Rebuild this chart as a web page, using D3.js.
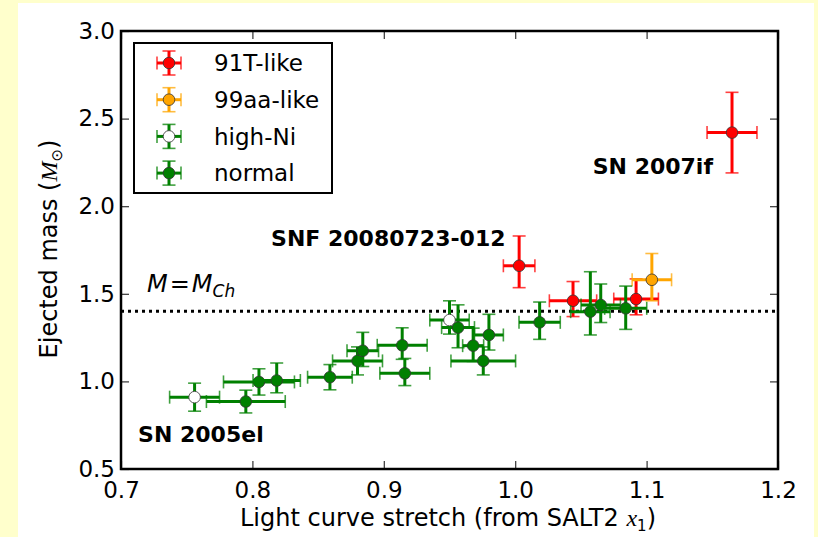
<!DOCTYPE html>
<html>
<head>
<meta charset="utf-8">
<script src="https://cdn.jsdelivr.net/npm/d3@7"></script>
<style>
  html, body { margin: 0; padding: 0; background: #ffffcc; }
  svg { display: block; }
  text { font-family: "DejaVu Sans", sans-serif; fill: #000; }
</style>
</head>
<body>
<svg id="chart" width="818" height="537"></svg>
<script>
// Light-curve stretch (x), its error (dx), ejected mass (y) and lower/upper mass errors
const like91T = [
  { x: 1.165, dx: 0.019, y: 2.42, lo: 0.23, hi: 0.23 },
  { x: 1.003, dx: 0.012, y: 1.66, lo: 0.125, hi: 0.17 },
  { x: 1.044, dx: 0.018, y: 1.46, lo: 0.09, hi: 0.11 },
  { x: 1.092, dx: 0.017, y: 1.47, lo: 0.09, hi: 0.115 }
];
const like99aa = [
  { x: 1.104, dx: 0.015, y: 1.58, lo: 0.12, hi: 0.15 }
];
const highNi = [
  { x: 0.756, dx: 0.019, y: 0.91, lo: 0.08, hi: 0.08 },
  { x: 0.950, dx: 0.015, y: 1.35, lo: 0.08, hi: 0.11 }
];
const normal = [
  { x: 0.795, dx: 0.030, y: 0.885, lo: 0.065, hi: 0.065 },
  { x: 0.805, dx: 0.027, y: 0.997, lo: 0.075, hi: 0.075 },
  { x: 0.8185, dx: 0.018, y: 1.005, lo: 0.07, hi: 0.10 },
  { x: 0.859, dx: 0.017, y: 1.024, lo: 0.072, hi: 0.072 },
  { x: 0.880, dx: 0.019, y: 1.117, lo: 0.08, hi: 0.08 },
  { x: 0.884, dx: 0.012, y: 1.175, lo: 0.09, hi: 0.105 },
  { x: 0.914, dx: 0.019, y: 1.206, lo: 0.08, hi: 0.10 },
  { x: 0.916, dx: 0.019, y: 1.046, lo: 0.07, hi: 0.085 },
  { x: 0.9565, dx: 0.0125, y: 1.307, lo: 0.115, hi: 0.13 },
  { x: 0.968, dx: 0.008, y: 1.204, lo: 0.09, hi: 0.10 },
  { x: 0.980, dx: 0.011, y: 1.265, lo: 0.086, hi: 0.118 },
  { x: 0.9757, dx: 0.0246, y: 1.117, lo: 0.08, hi: 0.08 },
  { x: 1.0186, dx: 0.0157, y: 1.337, lo: 0.097, hi: 0.116 },
  { x: 1.0572, dx: 0.015, y: 1.398, lo: 0.133, hi: 0.228 },
  { x: 1.0651, dx: 0.015, y: 1.436, lo: 0.10, hi: 0.12 },
  { x: 1.0841, dx: 0.016, y: 1.417, lo: 0.12, hi: 0.127 }
];

const seriesNames = ["91T-like", "99aa-like", "high-Ni", "normal"];
const seriesColors = ["#ff0000", "#ffa500", "#008000", "#008000"];
const markerFills = ["#ff0000", "#ffa500", "#ffffff", "#008000"];
const seriesData = [like91T, like99aa, highNi, normal];

const xTicks = [0.7, 0.8, 0.9, 1.0, 1.1, 1.2];
const yTicks = [0.5, 1.0, 1.5, 2.0, 2.5, 3.0];
const chandrasekharMass = 1.4;

const annotations = [
  { text: "SN 2007if", x: 1.059, y: 2.184 },
  { text: "SNF 20080723-012", x: 0.8142, y: 1.775 },
  { text: "SN 2005el", x: 0.7130, y: 0.655 }
];

const svg = d3.select("#chart");

// pale figure background inside the yellow page band
svg.append("rect").attr("x", 18).attr("y", 3).attr("width", 796).attr("height", 534)
  .attr("fill", "#ffffff");

const plot = { left: 121, right: 778, top: 31, bottom: 469 };

const x = d3.scaleLinear().domain([0.7, 1.2]).range([plot.left, plot.right]);
const y = d3.scaleLinear().domain([0.5, 3.0]).range([plot.bottom, plot.top]);

svg.append("rect")
  .attr("x", plot.left).attr("y", plot.top)
  .attr("width", plot.right - plot.left).attr("height", plot.bottom - plot.top)
  .attr("fill", "#ffffff");

// inward ticks on all four sides
const tickLen = 8;
const fmt = d3.format(".1f");
const axisBottom = d3.axisBottom(x).tickValues(xTicks).tickSizeInner(-tickLen).tickSizeOuter(0)
  .tickPadding(tickLen + 6).tickFormat(fmt);
const axisTop = d3.axisTop(x).tickValues(xTicks).tickSizeInner(-tickLen).tickSizeOuter(0)
  .tickFormat("");
const axisLeft = d3.axisLeft(y).tickValues(yTicks).tickSizeInner(-tickLen).tickSizeOuter(0)
  .tickPadding(tickLen + 6).tickFormat(fmt);
const axisRight = d3.axisRight(y).tickValues(yTicks).tickSizeInner(-tickLen).tickSizeOuter(0)
  .tickFormat("");

function styleAxis(g) {
  g.select(".domain").remove();
  g.selectAll(".tick line").attr("stroke", "#333").attr("stroke-width", 1.2);
  g.selectAll(".tick text").attr("font-size", 23).attr("font-family", "DejaVu Sans").attr("fill", "#000");
}

svg.append("g").attr("transform", `translate(0,${plot.bottom})`).call(axisBottom).call(styleAxis)
  .selectAll(".tick text").attr("dy", "0.35em").attr("y", 21);
svg.append("g").attr("transform", `translate(0,${plot.top})`).call(axisTop).call(styleAxis);
svg.append("g").attr("transform", `translate(${plot.left},0)`).call(axisLeft).call(styleAxis)
  .selectAll(".tick text").attr("x", -6);
svg.append("g").attr("transform", `translate(${plot.right},0)`).call(axisRight).call(styleAxis);

// Chandrasekhar-mass reference line
svg.append("line")
  .attr("x1", plot.left).attr("x2", plot.right)
  .attr("y1", y(chandrasekharMass)).attr("y2", y(chandrasekharMass))
  .attr("stroke", "#000").attr("stroke-width", 3).attr("stroke-dasharray", "3,4");

const mLabel = svg.append("text")
  .attr("x", 147).attr("y", y(chandrasekharMass) - 19)
  .attr("font-family", "Liberation Serif, serif").attr("font-size", 24);
mLabel.append("tspan").attr("font-style", "italic").text("M");
mLabel.append("tspan").attr("dx", 2).text("=");
mLabel.append("tspan").attr("dx", 2).attr("font-style", "italic").text("M");
mLabel.append("tspan").attr("font-style", "italic").attr("font-size", 17).attr("dy", 5).text("Ch");

// error bars and markers
const capHalf = 6.5;
function drawPoint(g, d, color, fill) {
  const cx = x(d.x), cy = y(d.y);
  const x0 = x(d.x - d.dx), x1 = x(d.x + d.dx);
  const yTop = y(d.y + d.hi), yBot = y(d.y - d.lo);
  g.append("line").attr("x1", x0).attr("x2", x1).attr("y1", cy).attr("y2", cy)
    .attr("stroke", color).attr("stroke-width", 3);
  g.append("line").attr("x1", cx).attr("x2", cx).attr("y1", yTop).attr("y2", yBot)
    .attr("stroke", color).attr("stroke-width", 3);
  const caps = [
    [x0, x0, cy - capHalf, cy + capHalf], [x1, x1, cy - capHalf, cy + capHalf],
    [cx - capHalf, cx + capHalf, yTop, yTop], [cx - capHalf, cx + capHalf, yBot, yBot]
  ];
  caps.forEach(c => g.append("line")
    .attr("x1", c[0]).attr("x2", c[1]).attr("y1", c[2]).attr("y2", c[3])
    .attr("stroke", color).attr("stroke-width", 1.6).attr("stroke-opacity", 0.75));
  g.append("circle").attr("cx", cx).attr("cy", cy).attr("r", 5.8)
    .attr("fill", fill).attr("stroke", "#333").attr("stroke-width", 0.8);
}

const marks = svg.append("g");
seriesData.forEach((data, i) => {
  data.forEach(d => drawPoint(marks, d, seriesColors[i], markerFills[i]));
});

// supernova name labels
svg.append("g").selectAll("text").data(annotations).join("text")
  .attr("x", d => x(d.x)).attr("y", d => y(d.y))
  .attr("font-size", 22).attr("font-weight", "bold")
  .text(d => d.text);

// frame
svg.append("rect")
  .attr("x", plot.left).attr("y", plot.top)
  .attr("width", plot.right - plot.left).attr("height", plot.bottom - plot.top)
  .attr("fill", "none").attr("stroke", "#000").attr("stroke-width", 2.5);

// legend
const legend = svg.append("g");
legend.append("rect").attr("x", 134).attr("y", 43).attr("width", 198).attr("height", 150)
  .attr("fill", "#ffffff").attr("stroke", "#000").attr("stroke-width", 2);
seriesNames.forEach((name, i) => {
  const ly = 63 + i * 36.7, lx = 169, h = 12;
  const color = seriesColors[i];
  legend.append("line").attr("x1", lx - h).attr("x2", lx + h).attr("y1", ly).attr("y2", ly)
    .attr("stroke", color).attr("stroke-width", 3);
  legend.append("line").attr("x1", lx).attr("x2", lx).attr("y1", ly - h).attr("y2", ly + h)
    .attr("stroke", color).attr("stroke-width", 3);
  [[lx - h, lx - h, ly - capHalf, ly + capHalf], [lx + h, lx + h, ly - capHalf, ly + capHalf],
   [lx - capHalf, lx + capHalf, ly - h, ly - h], [lx - capHalf, lx + capHalf, ly + h, ly + h]]
    .forEach(c => legend.append("line")
      .attr("x1", c[0]).attr("x2", c[1]).attr("y1", c[2]).attr("y2", c[3])
      .attr("stroke", color).attr("stroke-width", 1.6).attr("stroke-opacity", 0.75));
  legend.append("circle").attr("cx", lx).attr("cy", ly).attr("r", 5.8)
    .attr("fill", markerFills[i]).attr("stroke", "#333").attr("stroke-width", 0.8);
  legend.append("text").attr("x", 214).attr("y", ly).attr("dy", "0.36em")
    .attr("font-size", 23).text(name);
});

// axis titles
const xTitle = svg.append("text").attr("x", 448).attr("y", 526)
  .attr("text-anchor", "middle").attr("font-size", 24);
xTitle.append("tspan").text("Light curve stretch (from SALT2 ");
xTitle.append("tspan").attr("font-family", "Liberation Serif, serif").attr("font-style", "italic").text("x");
xTitle.append("tspan").attr("font-size", 15).attr("dy", 5).text("1");
xTitle.append("tspan").attr("dy", -5).text(")");

const yTitle = svg.append("text")
  .attr("transform", "translate(57,249) rotate(-90)")
  .attr("text-anchor", "middle").attr("font-size", 24);
yTitle.append("tspan").text("Ejected mass (");
yTitle.append("tspan").attr("font-family", "Liberation Serif, serif").attr("font-style", "italic").text("M");
yTitle.append("tspan").attr("font-size", 15).attr("dy", 5).text("\u2299");
yTitle.append("tspan").attr("dy", -5).text(")");
</script>
</body>
</html>
